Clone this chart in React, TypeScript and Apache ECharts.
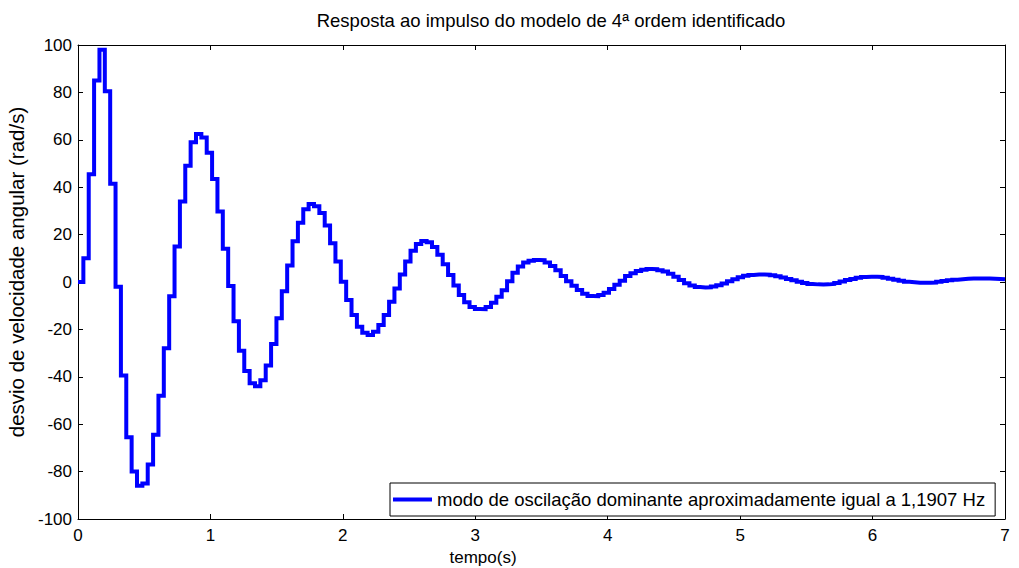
import React, { useEffect, useRef } from "react";
import * as echarts from "echarts";

const FONT = "'Liberation Sans', Arial, Helvetica, sans-serif";
const TITLE = "Resposta ao impulso do modelo de 4ª ordem identificado";
const X_NAME = "tempo(s)";
const Y_NAME = "desvio de velocidade angular (rad/s)";
const LEGEND_NAME = "modo de oscilação dominante aproximadamente igual a 1,1907 Hz";

// sample period of the discrete model (s) and read step values (rad/s)
const SAMPLE_PERIOD = 0.0405;
const X_MIN = 0;
const X_MAX = 7;
const X_INTERVAL = 1;
const Y_MIN = -100;
const Y_MAX = 100;
const Y_INTERVAL = 20;

const responseValues = [
  10, 45.5, 85, 98, 80.5, 41.5, -2, -39.5, -65.5, -80,
  -86, -85, -77, -64.5, -48, -28, -6, 15, 34, 49,
  59, 62.5, 61, 54.5, 43.5, 29.7, 14, -1.7, -16.6, -29,
  -37.6, -42.7, -44, -41.5, -35.2, -26.2, -15.3, -3.9, 7, 17.2,
  25, 30.7, 32.9, 32, 29.1, 23.8, 16.3, 8.6, 0.1, -7.6,
  -13.9, -18.9, -21.4, -22.4, -21, -18.1, -13.9, -8.3, -2.7, 3.2,
  8.6, 13.2, 16, 17.3, 16.8, 14.8, 11.5, 7.5, 3, -1.5,
  -5.5, -8.5, -10.5, -11.4, -11.5, -10.5, -8.8, -6.2, -3.5, 0.3,
  3.9, 6.5, 8.2, 9, 9.3, 9.2, 8.2, 6.8, 5, 2.5,
  0.3, -1.6, -3.4, -5, -5.9, -6, -5.5, -4.5, -3, -1.2,
  0.5, 2.5, 3.7, 4.6, 5.2, 5.5, 5.4, 5, 4.4, 3.5,
  2.2, 0.8, -0.5, -1.5, -2.1, -2.3, -2.2, -1.9, -1.4, -0.6,
  0.3, 1.2, 2, 2.6, 3, 3.2, 3.2, 3.1, 2.8, 2.4,
  1.9, 1.3, 0.7, 0.1, -0.4, -0.8, -1, -1.1, -1, -0.8,
  -0.4, 0.2, 0.8, 1.3, 1.8, 2.1, 2.2, 2.2, 2.1, 1.8,
  1.4, 0.9, 0.5, 0.1, -0.1, -0.3, -0.3, -0.3, -0.2, 0.1,
  0.4, 0.7, 1, 1.2, 1.4, 1.5, 1.5, 1.5, 1.5, 1.4,
  1.3, 1.2,
];

export default function App() {
  const ref = useRef<HTMLDivElement>(null);

  useEffect(() => {
    if (!ref.current) return;
    const chart = echarts.init(ref.current, null, { renderer: "svg" });

    const data: number[][] = [[X_MIN, 0]];
    responseValues.forEach((v, i) => data.push([SAMPLE_PERIOD * (i + 1), v]));
    data.push([X_MAX, responseValues[responseValues.length - 1]]);

    const axisLine = { show: true, onZero: false, lineStyle: { color: "#000", width: 1 } };
    const axisTick = { show: true, inside: true, length: 5, lineStyle: { color: "#000", width: 1 } };

    chart.setOption({
      animation: false,
      textStyle: { fontFamily: FONT },
      grid: {
        left: 78,
        right: 14,
        top: 45,
        bottom: 49,
        containLabel: false,
        outerBoundsMode: "none",
        show: false,
      },
      xAxis: [
        {
          type: "value",
          min: X_MIN,
          max: X_MAX,
          interval: X_INTERVAL,
          position: "bottom",
          axisLine,
          axisTick,
          axisLabel: { color: "#000", fontSize: 17, margin: 8, fontFamily: FONT },
          splitLine: { show: false },
          name: X_NAME,
          nameLocation: "middle",
          nameGap: 25,
          nameTextStyle: { color: "#000", fontSize: 17, fontFamily: FONT, padding: [0, 117, 0, 0] },
        },
        {
          type: "value",
          min: X_MIN,
          max: X_MAX,
          interval: X_INTERVAL,
          position: "top",
          axisLine,
          axisTick,
          axisLabel: { show: false },
          splitLine: { show: false },
        },
      ],
      yAxis: [
        {
          type: "value",
          min: Y_MIN,
          max: Y_MAX,
          interval: Y_INTERVAL,
          position: "left",
          axisLine,
          axisTick,
          axisLabel: { color: "#000", fontSize: 17, margin: 6, fontFamily: FONT },
          splitLine: { show: false },
          name: Y_NAME,
          nameLocation: "middle",
          nameGap: 48,
          nameTextStyle: { color: "#000", fontSize: 20.5, fontFamily: FONT, padding: [0, 0, 0, 20] },
        },
        {
          type: "value",
          min: Y_MIN,
          max: Y_MAX,
          interval: Y_INTERVAL,
          position: "right",
          axisLine,
          axisTick,
          axisLabel: { show: false },
          splitLine: { show: false },
        },
      ],
      legend: {
        data: [LEGEND_NAME],
        left: 390,
        top: 483,
        icon: "rect",
        itemWidth: 39,
        itemHeight: 4,
        padding: [7, 10, 7, 3],
        borderColor: "#000",
        borderWidth: 1,
        borderRadius: 0,
        backgroundColor: "#fff",
        textStyle: { color: "#000", fontSize: 18.5, lineHeight: 18, fontFamily: FONT },
      },
      graphic: [
        {
          type: "text",
          x: 551,
          y: 20,
          style: {
            text: TITLE,
            fill: "#000",
            fontSize: 18.5,
            fontFamily: FONT,
            textAlign: "center",
            textVerticalAlign: "middle",
          },
        },
      ],
      series: [
        {
          name: LEGEND_NAME,
          type: "line",
          step: "end",
          xAxisIndex: 0,
          yAxisIndex: 0,
          data,
          showSymbol: false,
          symbol: "none",
          clip: true,
          lineStyle: { color: "#0000ff", width: 4, join: "miter" },
          itemStyle: { color: "#0000ff" },
        },
      ],
    });

    return () => chart.dispose();
  }, []);

  return (
    <div
      ref={ref}
      style={{ position: "fixed", left: 0, top: 0, width: 1019, height: 568, background: "#fff" }}
    />
  );
}
